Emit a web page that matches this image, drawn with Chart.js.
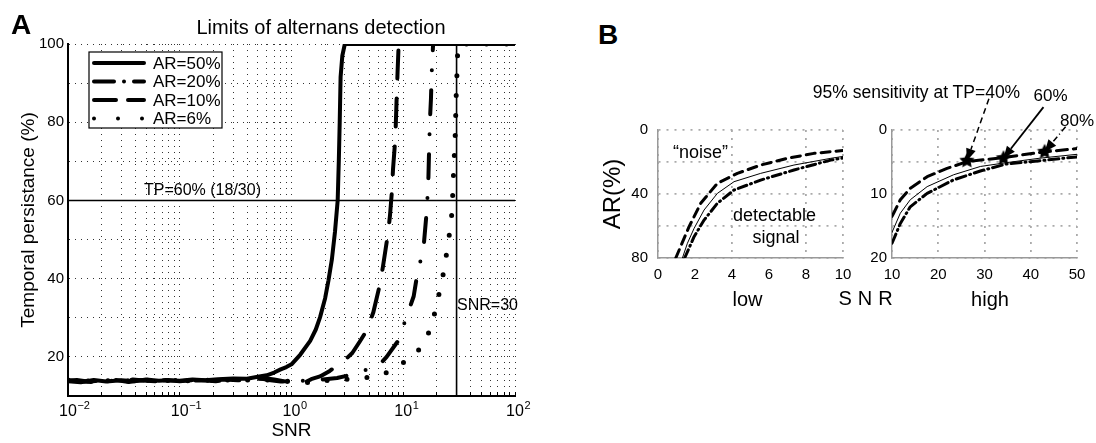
<!DOCTYPE html>
<html>
<head>
<meta charset="utf-8">
<script src="https://cdn.jsdelivr.net/npm/chart.js"></script>
<style>
body{margin:0;background:#fff;width:1096px;height:443px;position:relative;overflow:hidden;font-family:'Liberation Sans',Arial,sans-serif;color:#000}
canvas{position:absolute}
.t{position:absolute;transform:translate(-50%,-50%);line-height:1;white-space:nowrap}
</style>
</head>
<body>
<canvas id="cA" width="540" height="443" style="left:0;top:0"></canvas>
<canvas id="cB1" width="275" height="180" style="left:595px;top:110px"></canvas>
<canvas id="cB2" width="251" height="210" style="left:845px;top:80px"></canvas>

<div class="t" style="left:21px;top:25px;font-size:28px;font-weight:bold">A</div>
<div class="t" style="left:321px;top:26.5px;font-size:20px">Limits of alternans detection</div>
<div class="t" style="left:202.5px;top:189.5px;font-size:16px">TP=60% (18/30)</div>
<div class="t" style="left:487.5px;top:305px;font-size:16px">SNR=30</div>

<div class="t" style="left:608px;top:35px;font-size:28px;font-weight:bold">B</div>
<div class="t" style="left:916.5px;top:92.8px;font-size:17.5px">95% sensitivity at TP=40%</div>
<div class="t" style="left:1050.5px;top:95px;font-size:17px">60%</div>
<div class="t" style="left:1077px;top:120px;font-size:17px">80%</div>
<div class="t" style="left:700.5px;top:152px;font-size:18px">“noise”</div>
<div class="t" style="left:774.5px;top:214.6px;font-size:18px">detectable</div>
<div class="t" style="left:776px;top:236.9px;font-size:18px">signal</div>
<div class="t" style="left:747.5px;top:299px;font-size:20px">low</div>
<div class="t" style="left:868.5px;top:298px;font-size:20px;letter-spacing:6px">SNR</div>
<div class="t" style="left:990px;top:299px;font-size:20px">high</div>

<script>
'use strict';
const FONT="'Liberation Sans', Arial, sans-serif";
Chart.defaults.font.family=FONT;
Chart.defaults.color='#000';
Chart.defaults.animation=false;

// ---- panel A: temporal persistence (%) vs SNR, one series per AR
const snrAR50=[0.01,0.013,0.017,0.022,0.03,0.04,0.05,0.065,0.08,0.1,0.13,0.17,0.22,0.3,0.4,0.5,0.6,0.7,0.8,0.9,1.0,1.2,1.47,1.65,1.8,2.0,2.14,2.3,2.45,2.59,2.65,2.7,2.75,2.85,3.0,100];
const tpAR50=[13.8,13.5,14.1,13.7,14.0,13.8,14.2,13.9,14.0,13.9,14.2,14.0,14.3,14.5,14.4,14.9,15.3,16.0,16.8,17.4,18.1,20.6,24.1,27,30.1,35,39.5,45,52,60,70,80,91.6,97,100,100];
const snrAR20=[0.01,0.012,0.016,0.021,0.028,0.038,0.05,0.068,0.09,0.12,0.16,0.21,0.28,0.38,0.5,0.65,0.8,1.0,1.25,1.6,2.0,2.56,3.5,4.3,5.2,6.0,7.1,9.0,10.8,12.4,13.2,15.2,16.3,16.8,17.0,17.3,17.7,18.0,18.5,100];
const tpAR20=[13.9,14.1,13.6,14.0,13.8,14.2,13.9,13.7,14.1,13.9,14.0,13.8,14.2,14.1,14.6,14.0,13.7,13.6,13.9,14.0,14.3,14.6,15.5,16.3,17.2,17.7,20,24.1,30.5,35.5,40.3,48,58,66,72,80,86,93,100,100];
const snrAR10=[0.01,0.014,0.019,0.025,0.035,0.045,0.06,0.075,0.1,0.14,0.19,0.25,0.33,0.45,0.6,0.7,0.85,1.0,1.3,1.5,1.8,2.2,3.0,3.5,4.1,4.7,5.4,6.2,6.6,7.3,7.6,7.9,8.1,8.5,8.7,8.9,9.1,100];
const tpAR10=[14.0,13.7,13.9,14.2,13.6,14.0,13.8,14.1,13.8,14.1,13.9,14.2,14.0,14.3,14.5,14.2,13.8,13.5,13.4,14.3,15.0,16.4,19.2,21,24,26.7,31.4,38.7,43.3,51.5,56,62,68,76,85,93,100,100];
const snrAR6=[0.01,0.015,0.02,0.03,0.045,0.06,0.08,0.11,0.15,0.2,0.27,0.36,0.5,0.7,1.0,1.5,1.8,2.3,3.0,4.0,5.0,6.7,8.9,11.9,15.4,17.9,19.8,21.6,23.6,24.9,26.7,27.5,27.9,28.4,29.0,29.4,29.6,30.1,30.4,31.0,100];
const tpAR6=[14.1,13.8,14.0,13.7,14.1,13.9,14.0,13.8,14.2,13.9,14.1,14.0,14.2,14.0,13.7,13.4,14.1,13.9,14.2,14.6,14.8,15.6,17.7,19.7,23.4,28,33,38,43.2,48.5,53.6,58.7,64,69.2,74.5,79.8,85,90.2,95.5,100,100];
const tpThreshold=60, snrMark=30;
const xDecades=[0.01,0.1,1,10];
const xExpLabels=[-2,-1,0,1,2];

// ---- panel B: AR(%) needed vs SNR (low and high ranges)
const lowXDash=[0.96,1.68,2.31,3.21,4.29,5.55,7.0,8.43,10];
const lowYDash=[80,60.4,45.8,33.3,27.1,21.9,17.7,14.6,12.8];
const lowXSolid=[1.32,1.59,1.95,2.49,3.21,4.11,5.55,7.35,9.34,10];
const lowYSolid=[80,70.8,61.5,50,39.6,32.3,27.1,21.9,17.7,16.5];
const lowXDD=[1.44,1.95,2.49,3.21,4.11,5.55,7.35,9.34,10];
const lowYDD=[80,66.7,56.3,45.8,37.5,31.3,25,18.8,17.5];
const highXDash=[10,10.35,11.8,13.95,17.6,21.9,26.2,34.1,42,50];
const highYDash=[13.5,13,10.9,9.1,7.3,6.0,4.95,4.3,3.5,2.9];
const highXSolid=[10,11.8,13.95,17.6,23.3,29.1,34.8,42,50];
const highYSolid=[16,13,10.9,8.85,7.0,5.7,5.1,4.4,3.8];
const highXDD=[10,11.8,13.95,17.6,23.3,29.1,34.8,42,50];
const highYDD=[17.7,14.6,12,9.9,7.8,6.4,5.3,4.8,4.2];
const starX=[26.2,34.1,43];
const starY=[4.8,4.4,3.4];

const pts=(xs,ys)=>xs.map((x,i)=>({x,y:ys[i]}));
function curve(label,xs,ys,w,dash){
  return {label,data:pts(xs,ys),showLine:true,borderColor:'#000',borderWidth:w,borderDash:dash,
    borderCapStyle:'round',borderJoinStyle:'round',pointRadius:0,tension:0,fill:false};
}

// legend box drawn inside panel A
const legendA={
  id:'legendA',
  afterDraw(chart,args,opts){
    const {ctx,chartArea:a}=chart;
    const x=a.left+21,y=a.top+8,w=133,h=76;
    ctx.save();
    ctx.fillStyle='#fff';ctx.fillRect(x,y,w,h);
    ctx.strokeStyle='#000';ctx.lineWidth=1.2;ctx.strokeRect(x,y,w,h);
    ctx.font='17px '+FONT;ctx.textBaseline='middle';
    opts.items.forEach((it,i)=>{
      const ly=y+11+i*18.5;
      ctx.beginPath();ctx.setLineDash(it.dash);ctx.lineCap='round';ctx.lineWidth=4;
      ctx.moveTo(x+5,ly);ctx.lineTo(x+55,ly);ctx.stroke();
      ctx.setLineDash([]);ctx.fillStyle='#000';
      ctx.fillText(it.label,x+64,ly+1);
    });
    ctx.restore();
  }
};

// "10" with a raised exponent under each decade of the log axis
const expTicks={
  id:'expTicks',
  afterDraw(chart){
    const {ctx,scales:{x}}=chart;
    ctx.save();ctx.fillStyle='#000';ctx.textBaseline='alphabetic';
    xExpLabels.forEach(e=>{
      const px=x.getPixelForValue(Math.pow(10,e));
      ctx.font='16px '+FONT;ctx.textAlign='center';
      ctx.fillText('10',px,x.top+20);
      const half=ctx.measureText('10').width/2;
      ctx.font='11px '+FONT;ctx.textAlign='left';
      ctx.fillText(String(e).replace('-','\u2212'),px+half+0.5,x.top+13);
    });
    ctx.restore();
  }
};

new Chart(document.getElementById('cA'),{
  type:'scatter',
  data:{datasets:[
    curve('AR=50%',snrAR50,tpAR50,4,[]),
    curve('AR=20%',snrAR20,tpAR20,4,[24,20,0,20]),
    curve('AR=10%',snrAR10,tpAR10,4,[28,20]),
    curve('AR=6%',snrAR6,tpAR6,5,[0,20]),
    curve('tp',[0.01,100],[tpThreshold,tpThreshold],1.6,[]),
    curve('snr',[snrMark,snrMark],[10,100],1.6,[])
  ]},
  options:{
    responsive:false,devicePixelRatio:1,
    layout:{padding:{top:44,right:25,left:0,bottom:0}},
    plugins:{legend:{display:false},tooltip:{enabled:false},
      legendA:{items:[
        {label:'AR=50%',dash:[]},
        {label:'AR=20%',dash:[20,10,0,10]},
        {label:'AR=10%',dash:[22,12]},
        {label:'AR=6%',dash:[0,24]}
      ]}},
    scales:{
      x:{type:'logarithmic',min:0.01,max:100,
        afterBuildTicks:s=>{
          const t=[];
          xDecades.forEach(d=>{for(let m=1;m<10;m++)t.push({value:+(d*m).toPrecision(6)});});
          t.push({value:100});
          s.ticks=t;
        },
        afterFit:s=>{s.height=47;},
        ticks:{autoSkip:false,maxRotation:0,padding:6,font:{size:16},callback:()=>''},
        grid:{color:'#333',lineWidth:1,drawTicks:true,tickLength:-4,tickColor:'#000',tickWidth:1},
        border:{color:'#000',width:2,dash:[1,5]},
        title:{display:true,text:'SNR',font:{size:19},padding:{top:0,bottom:1}}
      },
      y:{min:10,max:100,
        afterFit:s=>{s.width=68;},
        ticks:{stepSize:10,padding:4,font:{size:15},callback:v=>v%20===0?v:''},
        grid:{color:'#333',lineWidth:1,drawTicks:false},
        border:{color:'#000',width:2,dash:[1,5]},
        title:{display:true,text:'Temporal persistance (%)',font:{size:19},padding:{top:17,bottom:0}}
      }
    }
  },
  plugins:[legendA,expTicks]
});

// panel B helpers
const GRIDB='#aaa';
function bScales(xmin,xmax,xstep,xgrid,ymax,ystep,ylab,yw,ypad,ytitle){
  return {
    x:{type:'linear',min:xmin,max:xmax,
      afterFit:s=>{s.height=32;},
      ticks:{stepSize:xstep,padding:8,font:{size:15},maxRotation:0,autoSkip:false},
      grid:{color:c=>(c.tick&&xgrid(c.tick.value))?GRIDB:'rgba(0,0,0,0)',lineWidth:1.8,drawTicks:false},
      border:{color:'#999',width:1.5,dash:[2,6]}
    },
    y:{reverse:true,min:0,max:ymax,
      afterFit:s=>{s.width=yw;},
      ticks:{stepSize:ystep,padding:ypad,font:{size:15},callback:v=>v%ylab===0?v:''},
      grid:{color:GRIDB,lineWidth:1.8,drawTicks:false},
      border:{color:'#999',width:1.5,dash:[2,6]},
      title:ytitle?{display:true,text:ytitle,font:{size:24},padding:{top:4,bottom:0}}:{display:false}
    }
  };
}

new Chart(document.getElementById('cB1'),{
  type:'scatter',
  data:{datasets:[
    curve('dash',lowXDash,lowYDash,3,[9,6]),
    curve('solid',lowXSolid,lowYSolid,1,[]),
    curve('dashdot',lowXDD,lowYDD,3,[9,4,1,4])
  ]},
  options:{responsive:false,devicePixelRatio:1,
    layout:{padding:{top:20,right:27,left:0,bottom:0}},
    plugins:{legend:{display:false},tooltip:{enabled:false}},
    scales:bScales(0,10,2,v=>v%4===0||v===10,80,20,40,63,10,'AR(%)')}
});

function starImage(r){
  const c=document.createElement('canvas');c.width=c.height=2*r+2;
  const g=c.getContext('2d');g.fillStyle='#000';g.beginPath();
  for(let k=0;k<10;k++){const rr=k%2?r*0.5:r;const a=-Math.PI/2+k*Math.PI/5;g.lineTo(r+1+rr*Math.cos(a),r+1+rr*Math.sin(a));}
  g.closePath();g.fill();return c;
}

// arrows from the annotation texts to the stars
const arrowsB={
  id:'arrowsB',
  afterDatasetsDraw(chart,args,opts){
    const {ctx,scales:{x,y}}=chart;
    opts.items.forEach(a=>{
      const tx=x.getPixelForValue(starX[a.i]),ty=y.getPixelForValue(starY[a.i]);
      const sx=tx+a.dx,sy=ty+a.dy;
      const ang=Math.atan2(ty-sy,tx-sx),c=Math.cos(ang),s=Math.sin(ang);
      const L=12,W=5;
      ctx.save();ctx.strokeStyle='#000';ctx.fillStyle='#000';ctx.lineWidth=a.w;ctx.setLineDash(a.dash);
      ctx.beginPath();ctx.moveTo(sx,sy);ctx.lineTo(tx-L*c,ty-L*s);ctx.stroke();
      ctx.setLineDash([]);
      ctx.beginPath();ctx.moveTo(tx,ty);
      ctx.lineTo(tx-L*c-W*s,ty-L*s+W*c);ctx.lineTo(tx-L*c+W*s,ty-L*s-W*c);ctx.closePath();ctx.fill();
      ctx.restore();
    });
  }
};

new Chart(document.getElementById('cB2'),{
  type:'scatter',
  data:{datasets:[
    curve('dash',highXDash,highYDash,3,[11,6]),
    curve('solid',highXSolid,highYSolid,1,[]),
    curve('dashdot',highXDD,highYDD,3,[10,4,1,4]),
    {label:'stars',data:pts(starX,starY),showLine:false,pointStyle:starImage(8),pointRadius:8}
  ]},
  options:{responsive:false,devicePixelRatio:1,
    layout:{padding:{top:50,right:19,left:0,bottom:0}},
    plugins:{legend:{display:false},tooltip:{enabled:false},
      arrowsB:{items:[
        {i:0,dx:22,dy:-62,w:1.5,dash:[6,4]},
        {i:1,dx:40,dy:-51,w:1.8,dash:[]},
        {i:2,dx:21,dy:-25,w:1.5,dash:[6,3,1,3]}
      ]}},
    scales:bScales(10,50,10,()=>true,20,5,10,47,5,null)},
  plugins:[arrowsB]
});
</script>
</body>
</html>
